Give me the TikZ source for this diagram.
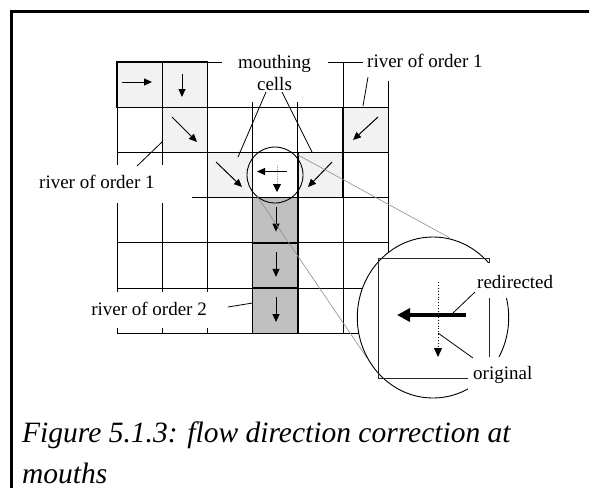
\documentclass[tikz,border=0pt]{standalone}
\usepackage{fontspec}
\setmainfont{Liberation Serif}
\usetikzlibrary{arrows.meta}
\definecolor{lightcell}{RGB}{242,242,242}
\definecolor{darkcell}{RGB}{192,192,192}
\begin{document}
\begin{tikzpicture}[x=1pt,y=-1pt,
  gridline/.style={line width=0.9pt, black},
  cellbox/.style={line width=1.4pt, black},
  flow/.style={line width=1pt, -{Triangle[length=8pt,width=7pt]}},
  lbl/.style={font=\fontsize{19}{22}\selectfont, inner sep=0pt},
  leader/.style={line width=0.8pt},
  zoomline/.style={line width=0.6pt, black!45},
  mask/.style={fill=white},
  captext/.style={font=\fontsize{29.5}{43}\selectfont\itshape, inner sep=0pt}
]
\useasboundingbox (0,0) rectangle (589,488);
% frame
\draw[line width=3pt] (11,488) -- (11,11.5) -- (589,11.5);

% grid
\foreach \i in {0,...,6} {
  \draw[gridline] ({117+45.2*\i},62) -- ({117+45.2*\i},333.2);
  \draw[gridline] (117,{62+45.2*\i}) -- (388.2,{62+45.2*\i});
}

% shaded cells
\foreach \i/\j in {0/0,1/0,1/1,2/2,4/2,5/1}
  \filldraw[cellbox, fill=lightcell] ({117+45.2*\i},{62+45.2*\j}) rectangle +(45.2,45.2);
\foreach \j in {3,4,5}
  \filldraw[cellbox, fill=darkcell] (252.6,{62+45.2*\j}) rectangle +(45.2,45.2);

% flow arrows
\draw[flow] (122,82) -- (152,82);
\draw[flow] (182,74) -- (182,97);
\draw[flow] (172,117) -- (197,142);
\draw[flow] (216,162) -- (242,187);
\draw[flow] (287,171.5) -- (257,171.5);
\draw[line width=0.8pt, densely dotted, black!35, -{Triangle[length=8pt,width=8pt,black]}] (277,165) -- (277,192);
\draw[flow] (332,162) -- (308,187);
\draw[flow] (378,117) -- (353,140);
\foreach \j in {3,4,5}
  \draw[flow] (276,{62+45.2*\j+9}) -- (276,{62+45.2*\j+34});

% small circle
\node[draw, circle, line width=0.9pt, minimum size=56pt, inner sep=0pt] (small) at (275,175) {};

% zoom lines
\coordinate (za) at (298,155);
\coordinate (zb) at (450,238);
\coordinate (zc) at (257,196);
\coordinate (zd) at (367,358);
\draw[zoomline] (za) -- (zb);
\draw[zoomline] (zc) -- (zd);

% big circle
\filldraw[fill=white, line width=0.9pt] (433,317.5) ellipse [x radius=75.7pt, y radius=80.5pt];
\draw[line width=1pt, black!85] (378,258) rectangle (489,378);
\draw[line width=4.5pt, -{Triangle[length=13pt,width=13pt]}] (466,315) -- (397,315);
\draw[line width=0.9pt, dotted, -{Triangle[length=9pt,width=8pt]}] (438,282) -- (438,357);

% masks behind labels
\fill[mask] (222,44) rectangle (328,102);
\fill[mask] (363,44) rectangle (487,81);
\fill[mask] (20,165) rectangle (192,203);
\fill[mask] (80,292) rectangle (226,328);
\fill[mask] (470,263) rectangle (560,298);
\fill[mask] (468,357) rectangle (540,400);

% labels
\node[lbl, anchor=base] (mouth1) at (274.5,68) {mouthing};
\node[lbl, anchor=base] (mouth2) at (274.5,90) {cells};
\node[lbl, anchor=base west] (riv1r) at (367,67) {river of order 1};
\node[lbl, anchor=base west] (riv1l) at (39,188) {river of order 1};
\node[lbl, anchor=base east] (riv2) at (207,315) {river of order 2};
\node[lbl, anchor=base west] (redir) at (477,288) {redirected};
\node[lbl, anchor=base west] (orig) at (473,379) {original};

% leaders
\coordinate (m2a) at (266,92);  \coordinate (m2b) at (238,157);
\coordinate (m2c) at (282,92);  \coordinate (m2d) at (312,152);
\coordinate (r1a) at (368,77);  \coordinate (r1b) at (363,106);
\coordinate (r2a) at (137,166); \coordinate (r2b) at (162,142);
\coordinate (r3a) at (228,307); \coordinate (r3b) at (252.6,303);
\coordinate (rda) at (475,292); \coordinate (rdb) at (453,313);
\coordinate (oa) at (473,358);  \coordinate (ob) at (438,333);
\draw[leader] (m2a) -- (m2b);
\draw[leader] (m2c) -- (m2d);
\draw[leader] (r1a) -- (r1b);
\draw[leader] (r2a) -- (r2b);
\draw[leader] (r3a) -- (r3b);
\draw[leader] (rda) -- (rdb);
\draw[leader] (oa) -- (ob);

% caption
\node[captext, anchor=base west] (cap1) at (22,442) {Figure 5.1.3: flow direction correction at};
\node[captext, anchor=base west] (cap2) at (22,483) {mouths};
\end{tikzpicture}
\end{document}
